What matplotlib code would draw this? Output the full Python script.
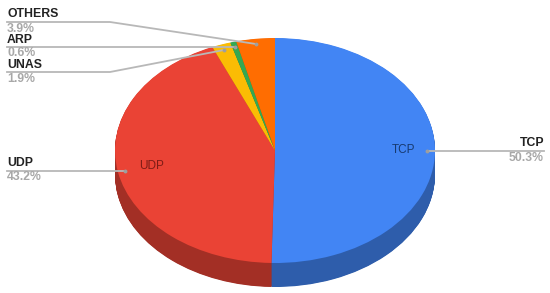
import matplotlib
matplotlib.use('Agg')
import matplotlib.pyplot as plt

labels = ['TCP', 'UDP', 'UNAS', 'ARP', 'OTHERS']
values = [50.3, 43.2, 1.9, 0.6, 3.9]
colors = ['#4285F4', '#EA4335', '#FBBC04', '#34A853', '#FF6D01']
side_colors = ['#2E5DAB', '#A32F25', '#B08403', '#24763A', '#B34C01']

W, H = 550, 293
CX, CY, RX, RY, DEPTH = 275, 150.5, 160, 112.5, 24


def px(x, y):
    # picture pixels to the unit-circle data space of the pie
    return (x - CX) / RX, (CY - y) / RY


plt.rcParams['font.family'] = ['Liberation Sans', 'DejaVu Sans']
fig = plt.figure(figsize=(W / 100, H / 100), dpi=100)
ax = fig.add_axes([0, 0, 1, 1])

# side of the pie: darker copies stacked downwards, half a pixel apart
for d in range(DEPTH * 2, 0, -1):
    ax.pie(values, colors=side_colors, startangle=90, counterclock=False,
           radius=1, center=(0, -d / 2 / RY), wedgeprops={'linewidth': 0})
ax.pie(values, colors=colors, startangle=90, counterclock=False,
       radius=1, center=(0, 0), wedgeprops={'linewidth': 0})

ax.set_aspect('auto')
ax.set_xlim(px(0, 0)[0], px(W, 0)[0])
ax.set_ylim(px(0, H)[1], px(0, 0)[1])
ax.axis('off')

# leader lines, from the text to the dot in the slice
leaders = {
    'TCP': [(544, 151), (427, 151)],
    'UDP': [(7, 170.5), (125, 170.5)],
    'UNAS': [(7, 72), (110, 72), (224, 50)],
    'ARP': [(7, 47), (235, 47)],
    'OTHERS': [(7, 22), (110, 22), (256, 44)],
}
for name, pts in leaders.items():
    xy = [px(x, y) for x, y in pts]
    ax.plot([p[0] for p in xy], [p[1] for p in xy], color='#b8b8b8', lw=1.3, zorder=5)
    ax.plot(xy[-1][0], xy[-1][1], 'o', ms=2.8, color='#9e9e9e', mew=0, zorder=6)

# outer labels: x, y of the name, y of the percent, alignment
label_pos = {
    'TCP': (544, 143, 158, 'right'),
    'UDP': (7, 163, 177, 'left'),
    'UNAS': (7, 65, 79, 'left'),
    'ARP': (7, 40, 53, 'left'),
    'OTHERS': (7, 14, 29, 'left'),
}
for name, val in zip(labels, values):
    x, y1, y2, ha = label_pos[name]
    ax.text(*px(x, y1), name, fontsize=8.8, fontweight='bold', color='#222222',
            ha=ha, va='center', zorder=7)
    ax.text(*px(x, y2), f'{val}%', fontsize=8.8, fontweight='bold', color='#a8a8a8',
            ha=ha, va='center', zorder=7)

ax.text(*px(152, 166), 'UDP', fontsize=8.5, color='#7d1c16', ha='center', va='center', zorder=7)
ax.text(*px(404, 150), 'TCP', fontsize=8.5, color='#173a70', ha='center', va='center', zorder=7)

fig.savefig('out.png', dpi=100)
